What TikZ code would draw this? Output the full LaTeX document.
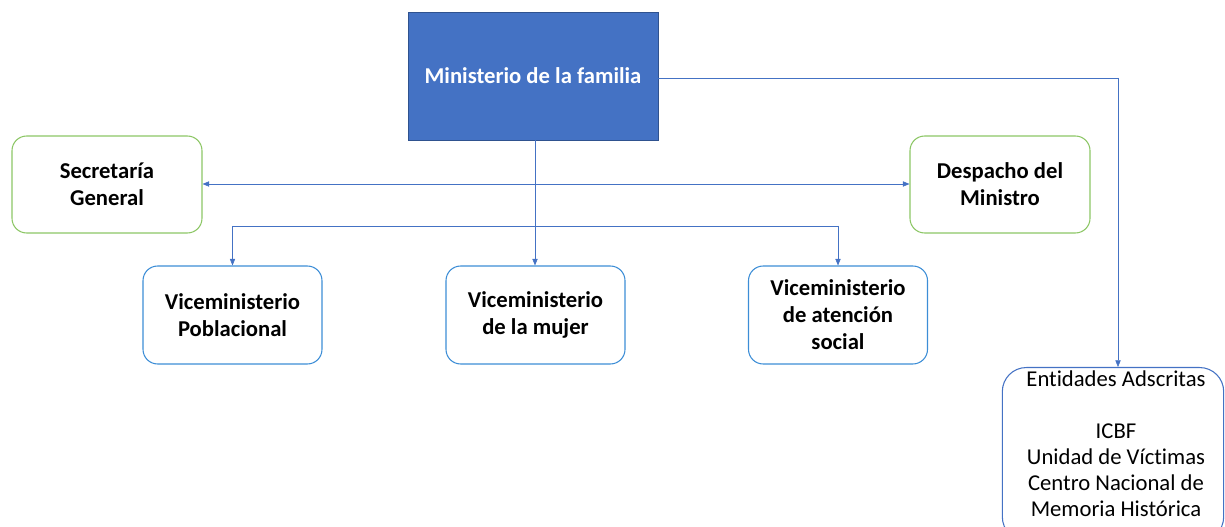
\documentclass[tikz,border=0pt]{standalone}
\usepackage{fontspec}
\setmainfont{Carlito}[Ligatures=NoCommon]
\usepackage{tikz}
\usetikzlibrary{arrows.meta,positioning,calc}
\definecolor{minblue}{HTML}{4472C4}
\definecolor{minedge}{HTML}{2F528F}
\definecolor{secgreen}{HTML}{8CC665}
\definecolor{viceblue}{HTML}{3C8DD6}

\begin{document}
\begin{tikzpicture}[
  x=0.75pt, y=-0.75pt,
  txt/.style={font=\fontsize{17}{20.25}\selectfont\bfseries, align=center},
  ministry/.style={rectangle, draw=minedge, fill=minblue, text=white, minimum width=187.5pt, minimum height=96pt, txt},
  office/.style={rectangle, draw=secgreen, thick, rounded corners=11pt, minimum width=142.5pt, minimum height=72.75pt, txt},
  vice/.style={rectangle, draw=viceblue, thick, rounded corners=11pt, minimum width=134.25pt, minimum height=73.5pt, txt},
  adscr/.style={rectangle, draw=minblue, thick, rounded corners=18pt, minimum width=166pt, minimum height=130pt},
  enttext/.style={align=center, inner sep=0pt, font=\fontsize{17}{19.5}\selectfont},
  arr/.style={-{Triangle[length=5pt,width=4pt]}, minblue},
  lin/.style={minblue},
]
\useasboundingbox (0,0) rectangle (1225,527);
\clip (0,0) rectangle (1225,527);

% Ministry
\node[ministry] (min) at (533,76) {Ministerio de la familia};

% Offices
\node[office] (sec) at (107,184.5) {Secretaría\\General};
\node[office, minimum width=135pt] (desp) at (1000,184.5) {Despacho del\\Ministro};

% Viceministries
\node[vice] (vpob) at (232.5,315) {Viceministerio\\Poblacional};
\node[vice] (vmuj) at (535.5,315) {Viceministerio\\de la mujer};
\node[vice] (vate) at (838,315) {Viceministerio\\de atención\\social};

% Attached entities
\node[adscr, anchor=north] (ent) at (1113,367) {};
\node[enttext, anchor=north] (entlist) at (1116,370) {Entidades Adscritas\\[19.5pt]ICBF\\Unidad de Víctimas\\Centro Nacional de\\Memoria Histórica};

% Junctions
\coordinate (j1) at (535,184);
\coordinate (j2) at (535,226);
\coordinate (jl) at (vpob.north |- j2);
\coordinate (jr) at (vate.north |- j2);
\coordinate (je) at (1118,78);

% Connectors
\draw[lin] (min.south -| j1) -- (j2);
\draw[arr] (j1) -- (sec.east |- j1);
\draw[arr] (j1) -- (desp.west |- j1);
\draw[lin] (jl) -- (jr);
\draw[arr] (jl) -- (vpob.north);
\draw[arr] (j2) -- (vmuj.north -| j2);
\draw[arr] (jr) -- (vate.north);
\draw[lin] (min.east |- je) -- (je);
\draw[arr] (je) -- (ent.north -| je);

\end{tikzpicture}
\end{document}
